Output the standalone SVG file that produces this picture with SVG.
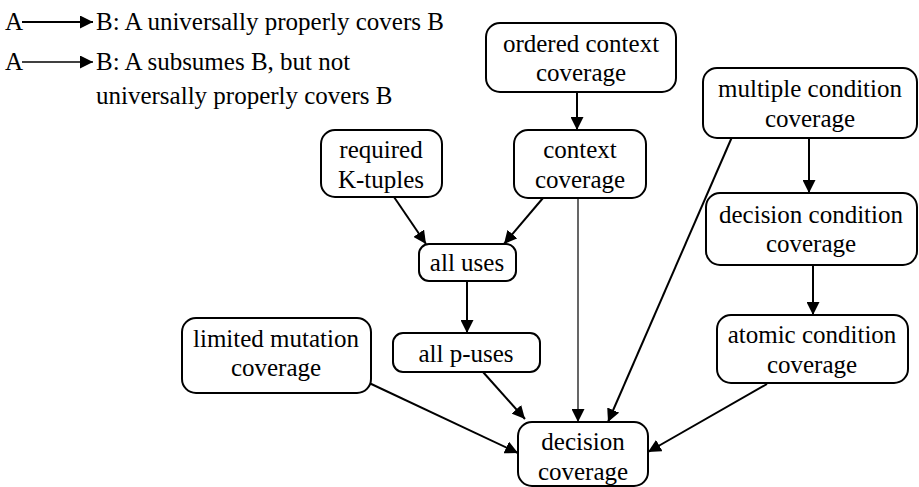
<svg xmlns="http://www.w3.org/2000/svg" width="919" height="487" viewBox="0 0 919 487">
  <style>
    svg text, g text, text { font-family: 'Liberation Serif', 'Times New Roman', serif !important; font-size: 25px; fill: #000; }
    .lbl { text-anchor: middle; }
    .box { fill: #fff; stroke: #000; stroke-width: 2; }
  </style>
  <defs>
    <marker id="head" viewBox="0 0 12 12" refX="12" refY="6" markerWidth="13" markerHeight="13" markerUnits="userSpaceOnUse" orient="auto">
      <path d="M0,0 L12,6 L0,12 Z" fill="#000"/>
    </marker>
  </defs>

  <!-- legend -->
  <g id="legend">
    <text x="5" y="30" style="font-family:'Liberation Serif',serif !important">A</text>
    <line x1="22" y1="22" x2="93" y2="22" stroke="#000" stroke-width="2" marker-end="url(#head)"/>
    <text x="96" y="30" style="font-family:'Liberation Serif',serif !important">B: A universally properly covers B</text>
    <text x="5" y="70" style="font-family:'Liberation Serif',serif !important">A</text>
    <line x1="22" y1="62" x2="93" y2="62" stroke="#000" stroke-width="1.6" marker-end="url(#head)"/>
    <text x="96" y="70" style="font-family:'Liberation Serif',serif !important">B: A subsumes B, but not</text>
    <text x="96" y="104" style="font-family:'Liberation Serif',serif !important">universally properly covers B</text>
  </g>

  <!-- connectors -->
  <g id="connectors" fill="none" stroke="#000" stroke-width="2" marker-end="url(#head)">
    <line x1="577" y1="84" x2="577" y2="130"/>
    <line x1="809" y1="138" x2="809" y2="193"/>
    <line x1="813" y1="265" x2="813" y2="315"/>
    <line x1="467" y1="281" x2="467" y2="333"/>
    <line x1="394" y1="197" x2="426" y2="244"/>
    <line x1="543" y1="198" x2="504" y2="244"/>
    <line x1="578" y1="198" x2="578" y2="422" stroke-width="1.2"/>
    <line x1="732" y1="137" x2="608" y2="422"/>
    <line x1="483" y1="372" x2="525" y2="419"/>
    <line x1="367" y1="382" x2="518" y2="453"/>
    <line x1="767" y1="384" x2="648" y2="452"/>
  </g>

  <!-- nodes: rounded boxes with centred labels -->
  <g id="ordered-context-coverage">
    <rect class="box" x="486" y="23" width="190" height="69" rx="14"/>
    <text class="lbl" x="581" y="52" style="font-family:'Liberation Serif',serif !important">ordered context</text>
    <text class="lbl" x="581" y="81" style="font-family:'Liberation Serif',serif !important">coverage</text>
  </g>
  <g id="context-coverage">
    <rect class="box" x="514" y="130" width="132" height="68" rx="14"/>
    <text class="lbl" x="580" y="158" style="font-family:'Liberation Serif',serif !important">context</text>
    <text class="lbl" x="580" y="188" style="font-family:'Liberation Serif',serif !important">coverage</text>
  </g>
  <g id="required-k-tuples">
    <rect class="box" x="321" y="130" width="121" height="67" rx="14"/>
    <text class="lbl" x="381" y="158" style="font-family:'Liberation Serif',serif !important">required</text>
    <text class="lbl" x="381" y="188" style="font-family:'Liberation Serif',serif !important">K-tuples</text>
  </g>
  <g id="all-uses">
    <rect class="box" x="419" y="244" width="97" height="37" rx="10"/>
    <text class="lbl" x="467" y="271" style="font-family:'Liberation Serif',serif !important">all uses</text>
  </g>
  <g id="all-p-uses">
    <rect class="box" x="393" y="333" width="147" height="39" rx="10"/>
    <text class="lbl" x="466" y="362" style="font-family:'Liberation Serif',serif !important">all p-uses</text>
  </g>
  <g id="limited-mutation-coverage">
    <rect class="box" x="182" y="318" width="189" height="75" rx="14"/>
    <text class="lbl" x="276" y="347" style="font-family:'Liberation Serif',serif !important">limited mutation</text>
    <text class="lbl" x="276" y="376" style="font-family:'Liberation Serif',serif !important">coverage</text>
  </g>
  <g id="decision-coverage">
    <rect class="box" x="518" y="422" width="130" height="64" rx="14"/>
    <text class="lbl" x="583" y="450" style="font-family:'Liberation Serif',serif !important">decision</text>
    <text class="lbl" x="583" y="480" style="font-family:'Liberation Serif',serif !important">coverage</text>
  </g>
  <g id="multiple-condition-coverage">
    <rect class="box" x="703" y="68" width="214" height="70" rx="14"/>
    <text class="lbl" x="810" y="97" style="font-family:'Liberation Serif',serif !important">multiple condition</text>
    <text class="lbl" x="810" y="127" style="font-family:'Liberation Serif',serif !important">coverage</text>
  </g>
  <g id="decision-condition-coverage">
    <rect class="box" x="706" y="193" width="211" height="72" rx="14"/>
    <text class="lbl" x="811" y="223" style="font-family:'Liberation Serif',serif !important">decision condition</text>
    <text class="lbl" x="811" y="252" style="font-family:'Liberation Serif',serif !important">coverage</text>
  </g>
  <g id="atomic-condition-coverage">
    <rect class="box" x="717" y="315" width="191" height="68" rx="14"/>
    <text class="lbl" x="812" y="343" style="font-family:'Liberation Serif',serif !important">atomic condition</text>
    <text class="lbl" x="812" y="373" style="font-family:'Liberation Serif',serif !important">coverage</text>
  </g>
</svg>
